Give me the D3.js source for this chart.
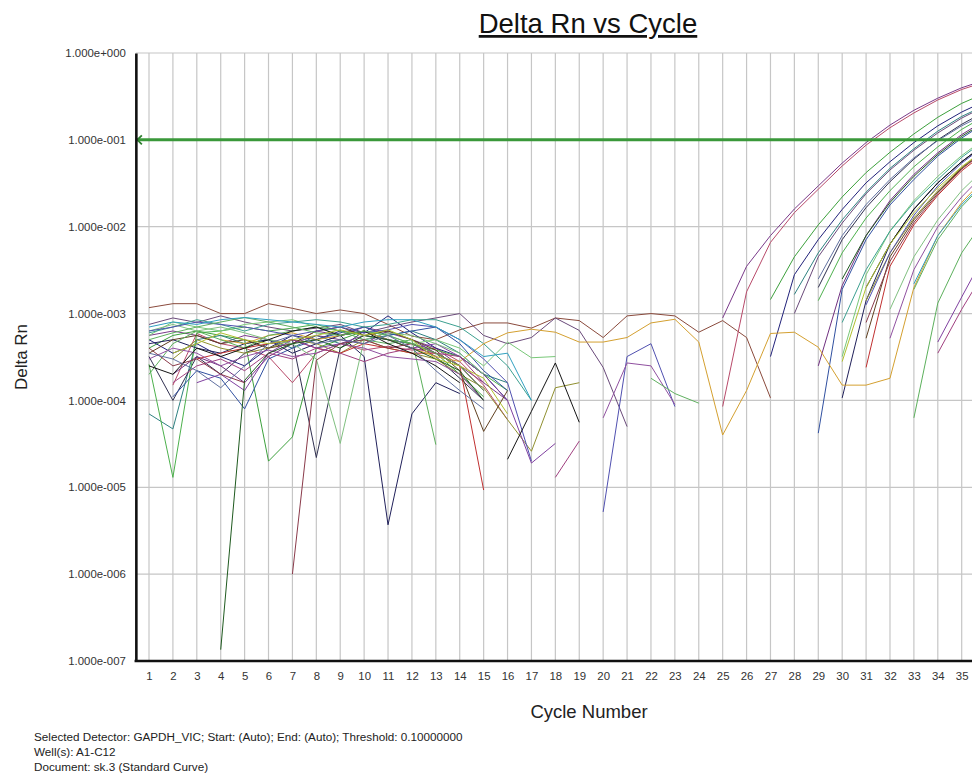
<!DOCTYPE html>
<html>
<head>
<meta charset="utf-8">
<script src="https://cdn.jsdelivr.net/npm/d3@7"></script>
<style>
  html, body { margin: 0; padding: 0; background: #ffffff; }
  svg { display: block; }
  text { font-family: Arial, "Liberation Sans", Helvetica, sans-serif; }
</style>
</head>
<body>
<svg id="chart" width="972" height="775"></svg>
<script>
const _ = null;

// ---- categories / ticks ----
const cycles = [1,2,3,4,5,6,7,8,9,10,11,12,13,14,15,16,17,18,19,20,21,22,23,24,25,26,27,28,29,30,31,32,33,34,35,36];
const xTickCycles = [1,2,3,4,5,6,7,8,9,10,11,12,13,14,15,16,17,18,19,20,21,22,23,24,25,26,27,28,29,30,31,32,33,34,35];
const yTickValues = [1, 1e-1, 1e-2, 1e-3, 1e-4, 1e-5, 1e-6, 1e-7];
const yTickLabels = ["1.000e+000","1.000e-001","1.000e-002","1.000e-003","1.000e-004","1.000e-005","1.000e-006","1.000e-007"];
const threshold = 0.1;

// ---- Delta Rn per well, cycles 1..36 (null = not drawable on log scale) ----
const well01 = [1.17e-3,1.3e-3,1.3e-3,1.0e-3,1.0e-3,1.3e-3,1.15e-3,1.0e-3,1.1e-3,1.0e-3,7.5e-4,5.5e-4,5.0e-4,6.5e-4,7.8e-4,7.8e-4,6.8e-4,8.9e-4,8.3e-4,5.3e-4,9.4e-4,1.0e-3,9.4e-4,6.1e-4,8.3e-4,5.3e-4,1.07e-4,_,_,_,_,_,_,_,_,_];
const well02 = [7.5e-4,8.9e-4,7.9e-4,9.4e-4,8.0e-4,7.0e-4,6.3e-4,6.8e-4,7.5e-4,6.0e-4,7.0e-4,8.0e-4,8.9e-4,1.0e-3,5.6e-4,4.5e-4,5.3e-4,8.9e-4,6.4e-4,2.4e-4,5.0e-5,_,_,_,_,_,_,1.0e-3,4.5e-3,1.1e-2,2.4e-2,4.5e-2,7.6e-2,0.12,0.178,0.245];
const well03 = [5.6e-4,6.3e-4,5.6e-4,4.5e-4,5.6e-4,5.0e-4,4.5e-4,6.3e-4,5.6e-4,7.0e-4,6.0e-4,5.0e-4,4.0e-4,2.5e-4,1.6e-4,1.0e-4,_,_,_,_,_,_,_,_,8.9e-4,3.5e-3,7.9e-3,1.6e-2,2.95e-2,5.4e-2,9.3e-2,0.148,0.219,0.302,0.398,0.49];
const well04 = [_,1.5e-4,5.9e-4,4.5e-4,4.0e-4,3.2e-4,1.6e-4,3.5e-4,4.5e-4,3.8e-4,4.2e-4,3.8e-4,4.0e-4,2.8e-4,1.5e-4,6.0e-5,_,_,_,_,_,_,_,_,8.5e-5,1.78e-3,6.6e-3,1.45e-2,2.7e-2,5.0e-2,8.7e-2,0.138,0.204,0.288,0.38,0.468];
const well05 = [4.0e-4,5.6e-4,6.3e-4,5.6e-4,5.0e-4,2.0e-5,3.8e-5,4.0e-4,5.0e-4,6.3e-4,5.0e-4,4.5e-4,3.5e-4,2.0e-4,1.1e-4,_,_,_,_,_,_,_,_,_,_,_,1.45e-3,4.5e-3,1.05e-2,2.2e-2,4.2e-2,7.2e-2,0.117,0.182,0.263,0.347];
const well06 = [5.0e-4,3.5e-4,4.5e-4,3.2e-4,2.5e-4,4.0e-4,5.6e-4,5.0e-4,6.3e-4,6.0e-4,9.4e-4,6.0e-4,4.0e-4,3.2e-4,2.0e-4,1.0e-4,_,_,_,_,_,_,_,_,_,_,3.2e-4,2.8e-3,7.1e-3,1.58e-2,3.2e-2,5.6e-2,9.3e-2,0.145,0.209,0.282];
const well07 = [7.0e-5,4.7e-5,5.0e-4,5.6e-4,4.5e-4,5.0e-4,4.0e-4,5.6e-4,4.5e-4,5.0e-4,5.6e-4,6.3e-4,5.0e-4,3.5e-4,2.0e-4,1.6e-4,_,_,_,_,_,_,_,_,_,_,_,1.66e-3,5.0e-3,1.2e-2,2.5e-2,4.7e-2,7.9e-2,0.126,0.186,0.251];
const well08 = [3.2e-4,1.0e-4,3.2e-4,2.0e-4,3.5e-4,4.5e-4,5.0e-4,2.2e-5,4.0e-4,6.3e-4,5.0e-4,4.5e-4,3.2e-4,1.8e-4,1.0e-4,_,_,_,_,_,_,_,_,_,_,_,_,_,2.0e-3,7.1e-3,1.66e-2,3.3e-2,6.0e-2,0.1,0.151,0.214];
const well09 = [2.6e-4,1.3e-5,6.0e-4,6.3e-4,7.0e-4,6.3e-4,6.8e-4,7.5e-4,6.3e-4,5.6e-4,5.0e-4,4.5e-4,3.8e-4,3.2e-4,2.0e-4,1.3e-4,_,_,_,_,_,_,_,_,_,_,_,_,1.41e-3,5.0e-3,1.26e-2,2.6e-2,4.9e-2,8.3e-2,0.132,0.19];
const well10 = [_,2.0e-4,3.2e-4,2.5e-4,1.6e-4,3.2e-4,4.5e-4,5.6e-4,5.0e-4,4.5e-4,6.3e-4,5.0e-4,3.5e-4,2.5e-4,1.3e-4,_,_,_,_,_,_,_,_,_,_,_,_,_,2.5e-4,2.1e-3,7.9e-3,2.0e-2,4.0e-2,7.1e-2,0.115,0.17];
const well11 = [_,1.1e-4,2.2e-4,1.8e-4,8.0e-5,3.0e-4,4.0e-4,5.0e-4,6.0e-4,7.0e-4,5.6e-4,6.3e-4,7.0e-4,4.5e-4,2.2e-4,1.3e-4,_,_,_,_,_,_,_,_,_,_,_,_,4.2e-5,1.9e-3,7.1e-3,1.78e-2,3.5e-2,6.5e-2,0.105,0.158];
const well12 = [5.6e-4,8.0e-4,7.0e-4,6.3e-4,7.5e-4,8.0e-4,8.5e-4,7.0e-4,5.6e-4,6.3e-4,5.6e-4,4.5e-4,5.0e-4,4.0e-4,2.5e-4,4.7e-4,3.1e-4,3.2e-4,_,_,_,_,_,_,_,_,_,_,_,3.2e-4,2.8e-3,8.9e-3,2.0e-2,3.8e-2,6.6e-2,0.105];
const well13 = [4.5e-4,5.0e-4,4.0e-4,3.5e-4,4.5e-4,5.0e-4,3.5e-4,4.5e-4,5.6e-4,3.2e-4,3.7e-6,7.0e-5,1.6e-4,1.2e-4,_,_,_,_,_,_,_,_,_,_,_,_,_,_,_,1.07e-4,1.41e-3,6.3e-3,1.58e-2,3.2e-2,5.6e-2,9.1e-2];
const well14 = [6.0e-4,7.0e-4,8.5e-4,7.5e-4,6.3e-4,7.5e-4,8.0e-4,8.5e-4,8.0e-4,7.0e-4,7.5e-4,8.5e-4,8.5e-4,7.0e-4,4.5e-4,2.5e-4,1.0e-4,_,_,_,_,_,_,_,_,_,_,_,_,7.9e-4,3.2e-3,8.9e-3,1.9e-2,3.5e-2,6.3e-2,0.1];
const well15 = [_,3.0e-4,5.0e-4,4.0e-4,3.5e-4,4.0e-4,5.0e-4,4.5e-4,3.5e-4,5.0e-4,4.0e-4,3.5e-4,3.0e-4,2.0e-4,1.4e-4,6.0e-5,2.6e-5,1.4e-4,1.6e-4,_,_,_,_,_,_,_,_,_,_,_,1.41e-3,5.0e-3,1.26e-2,2.6e-2,4.8e-2,7.9e-2];
const well16 = [_,_,3.0e-4,3.5e-4,4.0e-4,4.5e-4,5.0e-4,4.0e-4,3.5e-4,4.5e-4,4.0e-4,3.5e-4,3.5e-4,2.5e-4,9.3e-6,_,_,_,_,_,_,_,_,_,_,_,_,_,_,_,2.4e-4,3.5e-3,1.05e-2,2.3e-2,4.4e-2,7.2e-2];
const well17 = [_,_,_,5.0e-4,4.5e-4,5.6e-4,6.0e-4,5.0e-4,5.6e-4,6.3e-4,5.0e-4,4.0e-4,3.2e-4,2.8e-4,4.5e-4,6.0e-4,6.6e-4,6.1e-4,4.7e-4,4.7e-4,5.3e-4,7.8e-4,8.6e-4,4.7e-4,4.0e-5,1.3e-4,5.9e-4,6.1e-4,4.1e-4,1.5e-4,1.5e-4,1.8e-4,2.0e-3,7.9e-3,1.9e-2,3.7e-2];
const well18 = [3.5e-4,5.0e-4,5.6e-4,4.5e-4,5.0e-4,4.0e-4,4.5e-4,6.3e-4,7.0e-4,5.6e-4,6.3e-4,5.0e-4,3.8e-4,2.2e-4,4.4e-5,1.3e-4,_,_,_,_,_,_,_,_,_,_,_,_,_,_,5.2e-4,4.5e-3,1.2e-2,2.5e-2,4.7e-2,7.6e-2];
const well19 = [2.0e-4,4.5e-4,6.3e-4,5.0e-4,4.0e-4,5.6e-4,6.3e-4,7.0e-4,6.3e-4,5.0e-4,4.5e-4,5.0e-4,3.1e-5,_,_,_,_,_,_,_,_,_,_,_,_,_,_,_,_,_,_,_,6.3e-5,1.32e-3,5.0e-3,1.26e-2];
const well20 = [_,_,1.6e-4,2.0e-4,1.3e-4,3.5e-4,5.0e-4,4.0e-4,4.5e-4,5.6e-4,5.0e-4,4.0e-4,4.5e-4,3.2e-4,2.0e-4,1.0e-4,1.9e-5,3.2e-5,_,_,_,_,_,_,_,_,_,_,_,_,_,_,_,4.7e-4,1.55e-3,5.0e-3];
const well21 = [_,1.6e-4,2.5e-4,3.0e-4,2.2e-4,3.5e-4,3.0e-4,4.0e-4,3.5e-4,2.8e-4,3.5e-4,4.0e-4,3.5e-4,3.2e-4,1.6e-4,_,_,1.3e-5,3.4e-5,_,_,_,_,_,_,_,_,_,_,_,_,_,_,3.5e-4,1.12e-3,3.2e-3];
const well22 = [6.3e-4,7.5e-4,6.3e-4,7.0e-4,6.0e-4,5.0e-4,4.5e-4,3.0e-4,3.2e-5,5.0e-4,6.0e-4,5.6e-4,4.5e-4,3.5e-4,2.0e-4,_,_,_,_,_,_,_,_,_,_,_,_,_,_,_,_,1.12e-3,4.5e-3,1.2e-2,2.6e-2,4.8e-2];
const well23 = [6.3e-4,7.0e-4,8.0e-4,7.5e-4,7.0e-4,6.3e-4,5.6e-4,6.3e-4,7.0e-4,6.0e-4,6.5e-4,7.5e-4,7.0e-4,5.0e-4,3.0e-4,1.6e-4,2.0e-5,_,_,5.2e-6,3.2e-4,4.5e-4,8.5e-5,_,_,_,_,_,_,_,1.26e-3,5.0e-3,1.35e-2,2.95e-2,5.4e-2,8.7e-2];
const well24 = [3.0e-4,4.0e-4,3.5e-4,2.5e-4,3.2e-4,3.8e-4,3.2e-4,3.5e-4,4.5e-4,4.0e-4,3.2e-4,3.0e-4,2.8e-4,2.0e-4,1.0e-4,_,_,_,_,6.3e-5,2.7e-4,2.5e-4,9.0e-5,_,_,_,_,_,_,_,_,5.2e-4,3.2e-3,1.0e-2,2.2e-2,4.2e-2];
const well25 = [_,_,_,1.35e-7,1.7e-4,3.5e-4,4.5e-4,5.0e-4,4.0e-4,5.6e-4,5.0e-4,4.0e-4,3.0e-4,2.2e-4,1.0e-4,_,_,_,_,_,_,_,_,_,_,_,_,_,_,2.5e-3,7.9e-3,1.9e-2,3.8e-2,6.8e-2,0.11,0.162];
const well26 = [4.0e-4,2.5e-4,3.0e-4,2.0e-4,1.6e-4,_,1.0e-6,2.9e-4,4.5e-4,5.0e-4,4.0e-4,4.5e-4,3.5e-4,2.5e-4,1.3e-4,_,_,_,_,_,_,_,_,_,_,_,_,_,_,_,7.9e-4,4.0e-3,1.12e-2,2.4e-2,4.6e-2,7.6e-2];
const well27 = [2.5e-4,2.0e-4,4.0e-4,3.2e-4,4.0e-4,5.0e-4,6.3e-4,7.0e-4,5.6e-4,6.3e-4,4.5e-4,3.5e-4,2.5e-4,1.6e-4,_,2.1e-5,7.5e-5,2.7e-4,5.6e-5,_,_,_,_,_,_,_,_,_,_,_,2.0e-3,6.3e-3,1.6e-2,3.2e-2,5.6e-2,9.0e-2];
const well28 = [5.0e-4,6.0e-4,7.0e-4,8.0e-4,9.0e-4,8.0e-4,7.0e-4,6.0e-4,5.6e-4,6.3e-4,5.6e-4,4.5e-4,3.5e-4,2.5e-4,1.3e-4,_,_,_,_,_,_,1.8e-4,1.2e-4,9.3e-5,_,_,_,_,_,_,_,_,1.9e-3,7.1e-3,1.7e-2,3.3e-2];
const well29 = [7.0e-4,8.0e-4,7.5e-4,8.5e-4,9.0e-4,8.5e-4,8.0e-4,7.5e-4,7.0e-4,8.0e-4,8.5e-4,8.5e-4,7.0e-4,5.0e-4,3.2e-4,3.5e-4,1.0e-4,_,_,_,_,_,_,_,_,_,_,_,_,_,_,_,2.2e-3,7.9e-3,1.8e-2,3.4e-2];
const well30 = [3.5e-4,3.0e-4,2.2e-4,1.4e-4,2.5e-4,4.5e-4,5.6e-4,4.5e-4,5.0e-4,4.5e-4,5.6e-4,4.0e-4,2.2e-4,1.3e-4,8.0e-5,_,_,_,_,_,_,_,_,_,_,_,_,_,2.5e-3,7.9e-3,1.8e-2,3.5e-2,6.2e-2,9.8e-2,0.145,0.2];
const well31 = [_,3.5e-4,4.5e-4,6.0e-4,5.0e-4,4.5e-4,5.0e-4,5.6e-4,6.5e-4,5.6e-4,6.5e-4,5.0e-4,3.0e-4,2.5e-4,1.8e-4,7.0e-5,_,_,_,_,_,_,_,_,_,_,_,_,_,2.8e-4,2.0e-3,6.3e-3,1.45e-2,2.8e-2,4.9e-2,7.9e-2];

const wells = [well01,well02,well03,well04,well05,well06,well07,well08,well09,well10,well11,well12,well13,well14,well15,well16,well17,well18,well19,well20,well21,well22,well23,well24,well25,well26,well27,well28,well29,well30,well31];
const wellColors = ["#8a4a3c","#6a4a7a","#7a3a8a","#b84a6a","#3ca03c","#22227a","#2e8080","#303050","#4cb04c","#703080","#3050a0","#78c878","#20205a","#3ca090","#909030","#c03030","#d4a030","#604020","#5cb05c","#8040a0","#a04080","#80c080","#5050b0","#9050a0","#1f5a1f","#8a3a4a","#151515","#60b060","#30a0c0","#6070a0","#b0c030"];

// ---- drawing ----
const W = 972, H = 775;
const svg = d3.select("#chart");
svg.append("rect").attr("width", W).attr("height", H).attr("fill", "#ffffff");

const x = d3.scaleLinear().domain([1, 35]).range([149, 961.7]);
const y = d3.scaleLog().domain([1e-7, 1]).range([661, 53]);
const plotLeft = x(0.45), plotTop = y(1), plotBottom = y(1e-7), plotRight = W;

// grid
const grid = svg.append("g");
d3.range(1, 41).forEach(c => {
  grid.append("line").attr("x1", x(c)).attr("x2", x(c)).attr("y1", plotTop).attr("y2", plotBottom)
    .attr("stroke", "#c6c6c6").attr("stroke-width", 1.2);
});
yTickValues.slice(0, 7).forEach(v => {
  grid.append("line").attr("x1", plotLeft).attr("x2", plotRight).attr("y1", y(v)).attr("y2", y(v))
    .attr("stroke", "#c6c6c6").attr("stroke-width", 1.2);
});

// clip
svg.append("clipPath").attr("id", "plotClip").append("rect")
  .attr("x", plotLeft).attr("y", plotTop - 2).attr("width", plotRight - plotLeft).attr("height", plotBottom - plotTop + 2);

const line = d3.line()
  .defined(v => v !== null && v !== undefined)
  .x((v, i) => x(cycles[i]))
  .y(v => y(v));

const lines = svg.append("g").attr("clip-path", "url(#plotClip)");
wells.forEach((w, k) => {
  lines.append("path").attr("d", line(w)).attr("fill", "none")
    .attr("stroke", wellColors[k]).attr("stroke-width", 1).attr("stroke-linejoin", "round");
});

// threshold
const ty = y(threshold);
svg.append("line").attr("x1", plotLeft).attr("x2", plotRight).attr("y1", ty).attr("y2", ty)
  .attr("stroke", "#3a983a").attr("stroke-width", 3);
svg.append("path").attr("d", `M${plotLeft + 6},${ty - 4.5} L${plotLeft + 1.5},${ty} L${plotLeft + 6},${ty + 4.5}`)
  .attr("fill", "none").attr("stroke", "#2f7f2f").attr("stroke-width", 1.8);

// axes
const yAxis = d3.axisLeft(y).tickValues(yTickValues).tickFormat((d, i) => yTickLabels[i]).tickSize(0).tickPadding(10);
const gy = svg.append("g").attr("transform", `translate(${plotLeft},0)`).call(yAxis);
gy.select(".domain").attr("stroke", "#111").attr("stroke-width", 2.6);
gy.selectAll("text").attr("font-size", "11.4px").attr("fill", "#333")
  .attr("font-family", "Arial, 'Liberation Sans', sans-serif");

const xAxis = d3.axisBottom(x).tickValues(xTickCycles).tickFormat(d3.format("d")).tickSize(0).tickPadding(11);
const gx = svg.append("g").attr("transform", `translate(0,${plotBottom})`).call(xAxis);
gx.select(".domain").remove();
gx.selectAll("text").attr("font-size", "11.4px").attr("fill", "#333")
  .attr("font-family", "Arial, 'Liberation Sans', sans-serif");
svg.append("line").attr("x1", plotLeft - 1.3).attr("x2", plotRight).attr("y1", plotBottom).attr("y2", plotBottom)
  .attr("stroke", "#111").attr("stroke-width", 2.6);

// titles
svg.append("text").attr("x", 588).attr("y", 33).attr("text-anchor", "middle")
  .attr("font-size", "27.5px").attr("fill", "#111").style("text-decoration", "underline")
  .text("Delta Rn vs Cycle");
svg.append("text").attr("transform", "translate(27,357) rotate(-90)").attr("text-anchor", "middle")
  .attr("font-size", "17px").attr("fill", "#222").text("Delta Rn");
svg.append("text").attr("x", 589).attr("y", 718).attr("text-anchor", "middle")
  .attr("font-size", "18.5px").attr("fill", "#222").text("Cycle Number");

// footer
const footerLines = [
  "Selected Detector: GAPDH_VIC; Start: (Auto); End: (Auto); Threshold: 0.10000000",
  "Well(s): A1-C12",
  "Document: sk.3 (Standard Curve)"
];
footerLines.forEach((t, i) => {
  svg.append("text").attr("x", 34).attr("y", 741 + i * 15).attr("font-size", "11.7px")
    .attr("fill", "#222").text(t);
});
</script>
</body>
</html>
